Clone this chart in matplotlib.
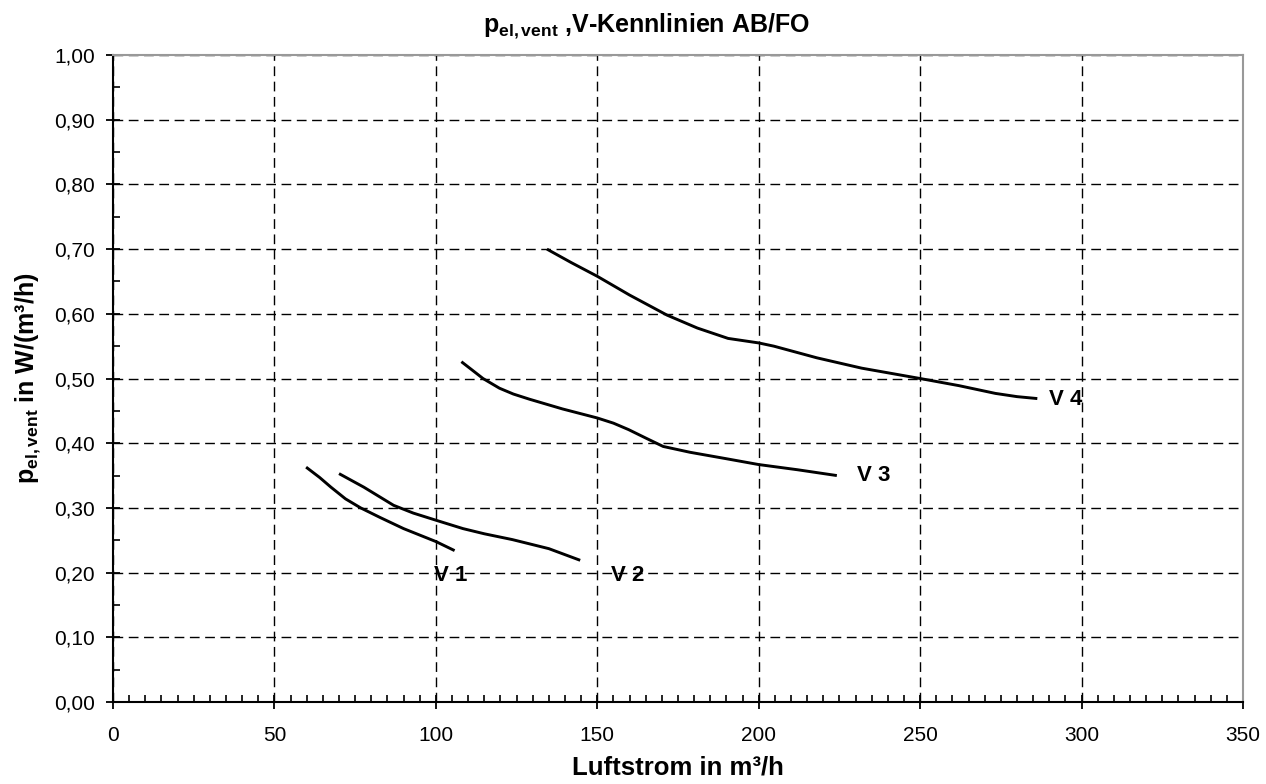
import matplotlib
matplotlib.use("Agg")
import matplotlib.pyplot as plt
from matplotlib.ticker import MultipleLocator, FuncFormatter

plt.rcParams['font.family'] = ['Liberation Sans', 'DejaVu Sans']
plt.rcParams['mathtext.fontset'] = 'custom'
plt.rcParams['mathtext.rm'] = 'Liberation Sans'
plt.rcParams['mathtext.bf'] = 'Liberation Sans:bold'
plt.rcParams['mathtext.it'] = 'Liberation Sans:italic'

# Kennlinien (Luftstrom in m3/h, p_el,vent in W/(m3/h))
v1_x = [59.8, 64.0, 67.5, 72.0, 76.7, 82.8, 90.0, 100.0, 105.8]
v1_y = [0.363, 0.347, 0.332, 0.314, 0.300, 0.285, 0.268, 0.248, 0.234]

v2_x = [70.0, 77.7, 86.9, 93.0, 100.0, 108.4, 115.0, 123.7, 135.0, 144.7]
v2_y = [0.353, 0.332, 0.304, 0.292, 0.281, 0.268, 0.260, 0.251, 0.237, 0.219]

v3_x = [107.9, 111.0, 114.6, 119.7, 124.0, 129.0, 139.2, 150.0, 155.0, 159.7,
        165.0, 170.4, 178.7, 190.0, 200.0, 212.0, 224.2]
v3_y = [0.526, 0.514, 0.500, 0.485, 0.476, 0.468, 0.453, 0.439, 0.431, 0.421,
        0.408, 0.395, 0.386, 0.376, 0.367, 0.359, 0.350]

v4_x = [134.4, 142.0, 150.0, 160.0, 171.6, 181.0, 190.5, 200.0, 204.7, 218.0,
        231.9, 250.0, 262.0, 273.3, 280.0, 286.3]
v4_y = [0.700, 0.679, 0.658, 0.629, 0.598, 0.578, 0.562, 0.555, 0.550, 0.532,
        0.516, 0.500, 0.489, 0.477, 0.472, 0.469]

curves = [(v1_x, v1_y), (v2_x, v2_y), (v3_x, v3_y), (v4_x, v4_y)]
labels = ["V 1", "V 2", "V 3", "V 4"]
label_x = [99.3, 154.3, 230.5, 289.8]
label_y = [0.195, 0.195, 0.350, 0.468]

fig = plt.figure(figsize=(12.66, 7.84), dpi=100)
ax = fig.add_axes([0.0893, 0.1046, 0.8925, 0.8252])

for (x, y) in curves:
    ax.plot(x, y, color='black', lw=2.1, solid_capstyle='butt', solid_joinstyle='round')

for t, lx, ly in zip(labels, label_x, label_y):
    ax.text(lx, ly, t, fontsize=16, fontweight='bold', va='center', ha='left')

ax.set_xlim(0, 350)
ax.set_ylim(0, 1.0)
ax.xaxis.set_major_locator(MultipleLocator(50))
ax.xaxis.set_minor_locator(MultipleLocator(5))
ax.yaxis.set_major_locator(MultipleLocator(0.1))
ax.yaxis.set_minor_locator(MultipleLocator(0.05))
ax.yaxis.set_major_formatter(FuncFormatter(lambda v, p: ("%.2f" % v).replace('.', ',')))

ax.grid(True, which='major', color='black', ls=(0, (7, 4)), lw=1.0)
ax.tick_params(which='major', direction='inout', length=10, width=1.3, labelsize=15)
ax.tick_params(axis='x', which='major', pad=12)
ax.tick_params(axis='y', which='major', pad=8)
ax.tick_params(which='minor', direction='in', length=5, width=1.2)

for s in ['left', 'bottom']:
    ax.spines[s].set_color('black')
    ax.spines[s].set_linewidth(1.5)
for s in ['top', 'right']:
    ax.spines[s].set_color('#999999')
    ax.spines[s].set_linewidth(1.5)

fig.text(0.511, 0.959, r"$\mathbf{p_{el,vent}}$ ,V-Kennlinien AB/FO", fontsize=18,
         fontweight='bold', ha='center', va='baseline')
ax.set_xlabel("Luftstrom in m³/h", fontsize=18.5, fontweight='bold', labelpad=8)
ax.set_ylabel(r"$\mathbf{p_{el,vent}}$ in W/(m³/h)", fontsize=18, fontweight='bold', labelpad=8)

fig.savefig("out.png", dpi=100)
